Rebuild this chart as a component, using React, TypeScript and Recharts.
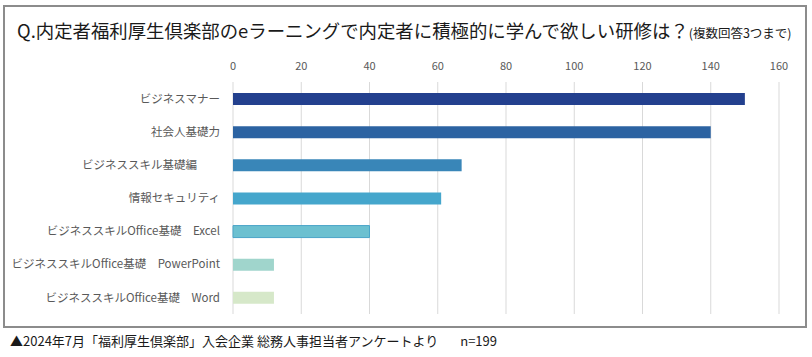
import { BarChart, Bar, XAxis, YAxis, CartesianGrid, Cell } from "recharts";

const categories = [
  "ビジネスマナー",
  "社会人基礎力",
  "ビジネススキル基礎編　　",
  "情報セキュリティ",
  "ビジネススキルOffice基礎　Excel",
  "ビジネススキルOffice基礎　PowerPoint",
  "ビジネススキルOffice基礎　Word",
];

const counts = [150, 140, 67, 61, 40, 12, 12];

const xTicks = [0, 20, 40, 60, 80, 100, 120, 140, 160];

const barColors = ["#23408e", "#2c63a2", "#3986b8", "#45a6cc", "#6cc0d0", "#a0d5cc", "#d6e8c9"];
const barStrokes = ["none", "none", "none", "none", "#4aa5c8", "none", "none"];

const data = categories.map((name, i) => ({ name, value: counts[i] }));

const font = "'Noto Sans CJK JP', 'Noto Sans', sans-serif";

export default function App() {
  return (
    <div
      style={{
        position: "absolute",
        left: 0,
        top: 0,
        width: 812,
        height: 357,
        background: "#fff",
        fontFamily: font,
      }}
    >
      <div
        style={{
          position: "absolute",
          left: 3,
          top: 5,
          width: 800,
          height: 319,
          border: "2px solid #8c8c8c",
        }}
      />
      <div
        style={{
          position: "absolute",
          left: 17,
          top: 16,
          whiteSpace: "nowrap",
          color: "#1a1a1a",
          fontSize: 18.4,
          lineHeight: "28px",
        }}
      >
        Q.内定者福利厚生倶楽部のeラーニングで内定者に積極的に学んで欲しい研修は？
        <span style={{ fontSize: 12.5 }}>(複数回答3つまで)</span>
      </div>
      <div style={{ position: "absolute", left: 0, top: 0 }}>
        <BarChart
          width={812}
          height={357}
          data={data}
          layout="vertical"
          margin={{ top: 52, right: 33, bottom: 43, left: 0 }}
          barCategoryGap={0}
        >
          <CartesianGrid horizontal={false} vertical stroke="#d9d9d9" />
          <XAxis
            type="number"
            orientation="top"
            height={30}
            domain={[0, 160]}
            ticks={xTicks}
            axisLine={false}
            tickLine={false}
            tickSize={6}
            tickMargin={6}
            tick={{ fill: "#595959", fontSize: 11, fontFamily: font }}
          />
          <YAxis
            type="category"
            dataKey="name"
            width={233}
            axisLine={false}
            tickLine={false}
            tickSize={6}
            tickMargin={7}
            interval={0}
            tick={{ fill: "#595959", fontSize: 11.5, fontFamily: font }}
          />
          <Bar dataKey="value" barSize={12} isAnimationActive={false}>
            {data.map((d, i) => (
              <Cell key={d.name} fill={barColors[i]} stroke={barStrokes[i]} strokeWidth={1} />
            ))}
          </Bar>
        </BarChart>
      </div>
      <div
        style={{
          position: "absolute",
          left: 10,
          top: 332,
          whiteSpace: "nowrap",
          color: "#1a1a1a",
          fontSize: 13,
          lineHeight: "18px",
        }}
      >
        ▲2024年7月「福利厚生倶楽部」入会企業 総務人事担当者アンケートより
        <span style={{ marginLeft: 22 }}>n=199</span>
      </div>
    </div>
  );
}
